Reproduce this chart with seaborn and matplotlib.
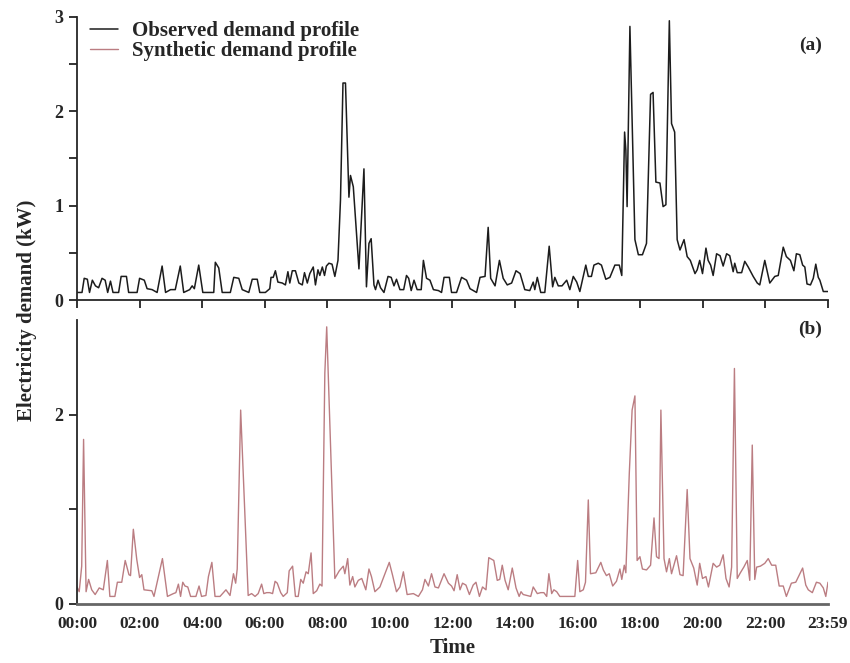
import numpy as np
import pandas as pd
import matplotlib
matplotlib.use('Agg')
import matplotlib.pyplot as plt
import seaborn as sns
from matplotlib.ticker import MultipleLocator, FixedLocator

# observed profile (a): time in hours, demand in kW
obs_hours = [0.00, 0.16, 0.23, 0.33, 0.40, 0.49, 0.59, 0.69, 0.80, 0.90, 0.98, 1.07, 1.15, 1.33, 1.41, 1.58,
             1.65, 1.92, 2.00, 2.15, 2.24, 2.40, 2.56, 2.72, 2.83, 2.99, 3.14, 3.30, 3.41, 3.60, 3.68, 3.75,
             3.89, 4.02, 4.37, 4.42, 4.53, 4.64, 4.90, 5.01, 5.17, 5.28, 5.49, 5.60, 5.76, 5.84, 6.02, 6.16,
             6.20, 6.27, 6.34, 6.42, 6.56, 6.66, 6.74, 6.80, 6.88, 6.98, 7.09, 7.20, 7.27, 7.36, 7.44, 7.55,
             7.62, 7.70, 7.76, 7.84, 7.91, 7.97, 8.05, 8.15, 8.24, 8.34, 8.42, 8.50, 8.58, 8.69, 8.74, 8.83,
             9.01, 9.17, 9.25, 9.33, 9.40, 9.49, 9.54, 9.62, 9.70, 9.81, 9.94, 10.04, 10.13, 10.21, 10.32,
             10.44, 10.53, 10.60, 10.68, 10.77, 10.87, 11.00, 11.07, 11.17, 11.28, 11.39, 11.55, 11.65, 11.73,
             11.90, 11.97, 12.13, 12.29, 12.45, 12.56, 12.77, 12.88, 13.04, 13.14, 13.22, 13.36, 13.50, 13.62,
             13.75, 13.89, 14.03, 14.16, 14.31, 14.47, 14.58, 14.63, 14.71, 14.82, 14.95, 15.09, 15.20, 15.27,
             15.38, 15.50, 15.65, 15.75, 15.86, 15.97, 16.07, 16.26, 16.34, 16.44, 16.52, 16.66, 16.76, 16.90,
             17.03, 17.19, 17.33, 17.41, 17.50, 17.54, 17.58, 17.67, 17.83, 17.94, 18.07, 18.20, 18.33, 18.41,
             18.50, 18.63, 18.73, 18.82, 18.93, 19.00, 19.10, 19.18, 19.27, 19.40, 19.50, 19.60, 19.75, 19.82,
             19.90, 19.99, 20.10, 20.17, 20.25, 20.33, 20.44, 20.55, 20.65, 20.76, 20.86, 20.97, 21.02, 21.10,
             21.24, 21.34, 21.45, 21.61, 21.74, 21.82, 21.98, 22.14, 22.30, 22.41, 22.57, 22.67, 22.80, 22.91,
             22.99, 23.10, 23.19, 23.26, 23.33, 23.44, 23.53, 23.61, 23.69, 23.74, 23.85, 24.00]
obs_kw = [0.08, 0.08, 0.23, 0.22, 0.08, 0.21, 0.15, 0.13, 0.23, 0.21, 0.08, 0.20, 0.08, 0.08, 0.25, 0.25,
          0.08, 0.08, 0.23, 0.21, 0.12, 0.11, 0.08, 0.36, 0.08, 0.11, 0.11, 0.36, 0.08, 0.11, 0.15, 0.12,
          0.37, 0.08, 0.08, 0.40, 0.34, 0.08, 0.08, 0.24, 0.23, 0.11, 0.08, 0.22, 0.22, 0.08, 0.08, 0.12,
          0.24, 0.24, 0.31, 0.19, 0.18, 0.16, 0.30, 0.18, 0.31, 0.31, 0.18, 0.16, 0.29, 0.18, 0.28, 0.35,
          0.16, 0.32, 0.26, 0.35, 0.26, 0.36, 0.39, 0.38, 0.25, 0.42, 1.06, 2.30, 2.30, 1.09, 1.32, 1.20,
          0.33, 1.39, 0.14, 0.60, 0.65, 0.16, 0.11, 0.21, 0.13, 0.08, 0.25, 0.24, 0.15, 0.22, 0.11,
          0.11, 0.26, 0.23, 0.10, 0.21, 0.11, 0.11, 0.42, 0.23, 0.21, 0.11, 0.10, 0.08, 0.24,
          0.24, 0.08, 0.08, 0.24, 0.21, 0.12, 0.08, 0.24, 0.25, 0.77, 0.23, 0.15, 0.42, 0.23,
          0.16, 0.18, 0.31, 0.28, 0.11, 0.10, 0.19, 0.11, 0.24, 0.08, 0.08, 0.57, 0.14, 0.24,
          0.15, 0.15, 0.21, 0.11, 0.25, 0.19, 0.09, 0.37, 0.25, 0.25, 0.37, 0.39, 0.37, 0.22,
          0.24, 0.37, 0.37, 0.26, 1.78, 1.59, 0.99, 2.90, 0.64, 0.48, 0.48, 0.60, 2.18, 2.20,
          1.25, 1.24, 0.99, 1.01, 2.96, 1.87, 1.78, 0.64, 0.53, 0.64, 0.46, 0.42, 0.28, 0.32,
          0.42, 0.28, 0.55, 0.42, 0.37, 0.26, 0.49, 0.47, 0.36, 0.49, 0.47, 0.30, 0.39, 0.29,
          0.29, 0.41, 0.35, 0.25, 0.18, 0.16, 0.42, 0.18, 0.25, 0.26, 0.56, 0.46, 0.42, 0.31,
          0.49, 0.48, 0.37, 0.35, 0.17, 0.16, 0.23, 0.38, 0.24, 0.21, 0.09, 0.09]

# synthetic profile (b)
syn_hours = [0.00, 0.07, 0.15, 0.21, 0.29, 0.37, 0.47, 0.58, 0.71, 0.84, 0.97, 1.05, 1.21, 1.29, 1.43, 1.54,
             1.66, 1.71, 1.80, 1.91, 2.00, 2.07, 2.14, 2.39, 2.46, 2.60, 2.73, 2.89, 3.08, 3.16, 3.24, 3.31,
             3.38, 3.45, 3.54, 3.63, 3.80, 3.90, 3.98, 4.12, 4.20, 4.31, 4.41, 4.57, 4.76, 4.89, 5.00, 5.07,
             5.12, 5.23, 5.47, 5.58, 5.69, 5.79, 5.90, 5.97, 6.06, 6.16, 6.25, 6.33, 6.40, 6.51, 6.59, 6.72,
             6.78, 6.89, 6.98, 7.07, 7.15, 7.23, 7.32, 7.39, 7.48, 7.55, 7.66, 7.76, 7.83, 7.92, 7.98, 8.03,
             8.24, 8.38, 8.51, 8.56, 8.65, 8.72, 8.81, 8.88, 8.99, 9.10, 9.23, 9.33, 9.41, 9.52, 9.68, 9.98,
             10.08, 10.21, 10.32, 10.43, 10.55, 10.75, 10.91, 11.04, 11.12, 11.23, 11.33, 11.44, 11.55, 11.73,
             11.87, 11.97, 12.05, 12.15, 12.24, 12.32, 12.43, 12.54, 12.66, 12.75, 12.86, 12.96, 13.07, 13.16,
             13.32, 13.43, 13.51, 13.59, 13.68, 13.78, 13.91, 14.03, 14.13, 14.19, 14.26, 14.50, 14.58, 14.71,
             14.82, 14.92, 15.01, 15.08, 15.17, 15.24, 15.33, 15.43, 15.91, 16.00, 16.07, 16.18, 16.25, 16.34,
             16.41, 16.58, 16.74, 16.82, 16.92, 17.01, 17.12, 17.24, 17.35, 17.41, 17.49, 17.54, 17.65, 17.74,
             17.83, 17.90, 17.99, 18.07, 18.20, 18.33, 18.44, 18.52, 18.60, 18.66, 18.76, 18.84, 18.93, 19.00,
             19.16, 19.27, 19.37, 19.50, 19.59, 19.71, 19.82, 19.90, 19.99, 20.10, 20.18, 20.33, 20.44, 20.54,
             20.65, 20.74, 20.84, 20.92, 21.01, 21.10, 21.20, 21.31, 21.42, 21.50, 21.58, 21.66, 21.72, 21.84,
             21.98, 22.09, 22.20, 22.33, 22.44, 22.57, 22.67, 22.83, 22.97, 23.19, 23.29, 23.37, 23.50, 23.63,
             23.74, 23.85, 23.93, 24.00]
syn_kw = [0.18, 0.13, 0.40, 1.74, 0.13, 0.26, 0.15, 0.10, 0.17, 0.15, 0.46, 0.08, 0.08, 0.23, 0.23, 0.46,
          0.31, 0.30, 0.79, 0.47, 0.28, 0.31, 0.15, 0.14, 0.08, 0.29, 0.48, 0.08, 0.11, 0.12, 0.21, 0.08,
          0.23, 0.19, 0.18, 0.08, 0.08, 0.19, 0.08, 0.09, 0.29, 0.44, 0.08, 0.08, 0.15, 0.09, 0.32, 0.22,
          0.37, 2.05, 0.09, 0.11, 0.08, 0.11, 0.21, 0.11, 0.12, 0.12, 0.11, 0.24, 0.22, 0.12, 0.08, 0.12,
          0.35, 0.40, 0.08, 0.08, 0.26, 0.22, 0.34, 0.32, 0.54, 0.11, 0.14, 0.21, 0.19, 2.44, 2.93, 2.42,
          0.27, 0.35, 0.40, 0.32, 0.48, 0.20, 0.29, 0.18, 0.25, 0.27, 0.15, 0.37, 0.29, 0.13, 0.18, 0.44,
          0.31, 0.13, 0.18, 0.34, 0.10, 0.11, 0.08, 0.15, 0.26, 0.19, 0.32, 0.18, 0.17, 0.32,
          0.22, 0.19, 0.14, 0.31, 0.15, 0.22, 0.20, 0.10, 0.20, 0.23, 0.08, 0.18, 0.15, 0.49,
          0.46, 0.25, 0.26, 0.41, 0.25, 0.15, 0.38, 0.17, 0.08, 0.13, 0.10, 0.08, 0.18, 0.11,
          0.12, 0.12, 0.08, 0.32, 0.11, 0.15, 0.13, 0.08, 0.08, 0.46, 0.13, 0.15, 0.23, 1.10,
          0.32, 0.33, 0.44, 0.36, 0.30, 0.32, 0.19, 0.24, 0.37, 0.26, 0.41, 0.33, 1.38, 2.05,
          2.20, 0.46, 0.50, 0.37, 0.36, 0.41, 0.91, 0.50, 0.48, 2.05, 0.48, 0.34, 0.48, 0.32,
          0.51, 0.31, 0.30, 1.21, 0.48, 0.38, 0.20, 0.43, 0.27, 0.29, 0.18, 0.43, 0.39, 0.41,
          0.52, 0.27, 0.18, 0.39, 2.49, 0.27, 0.33, 0.39, 0.46, 0.25, 1.68, 0.26, 0.39, 0.40,
          0.43, 0.48, 0.41, 0.41, 0.19, 0.19, 0.08, 0.22, 0.23, 0.38, 0.20, 0.15, 0.12, 0.23,
          0.22, 0.17, 0.08, 0.23]

tick_hours = [0, 2, 4, 6, 8, 10, 12, 14, 16, 18, 20, 22, 24]
tick_labels = ['00:00', '02:00', '04:00', '06:00', '08:00', '10:00', '12:00',
               '14:00', '16:00', '18:00', '20:00', '22:00', '23:59']

obs_df = pd.DataFrame({'hour': obs_hours, 'kw': obs_kw})
syn_df = pd.DataFrame({'hour': syn_hours, 'kw': syn_kw})

sns.set_style('ticks')
plt.rcParams['font.family'] = ['Liberation Serif', 'DejaVu Serif']
plt.rcParams['font.weight'] = 'bold'

fig = plt.figure(figsize=(8.5, 6.63), dpi=100)
ax1 = fig.add_axes([0.0906, 0.5475, 0.8835, 0.4269])
ax2 = fig.add_axes([0.0906, 0.089, 0.8835, 0.428])

sns.lineplot(data=obs_df, x='hour', y='kw', ax=ax1, color='#1c1c1c', lw=1.1,
             estimator=None, sort=False, label='Observed demand profile')
sns.lineplot(data=syn_df, x='hour', y='kw', ax=ax2, color='#bb7d82', lw=1.0,
             estimator=None, sort=False, label='Synthetic demand profile')

for ax in (ax1, ax2):
    ax.set_xlim(0, 24)
    ax.set_ylim(0, 3)
    ax.set_xlabel('')
    ax.set_ylabel('')
    sns.despine(ax=ax)
    ax.spines['left'].set_linewidth(1.3)
    ax.spines['bottom'].set_linewidth(1.3)

# panel (a)
ax1.xaxis.set_major_locator(FixedLocator(tick_hours))
ax1.set_xticklabels([])
ax1.yaxis.set_major_locator(MultipleLocator(1))
ax1.yaxis.set_minor_locator(MultipleLocator(0.5))
ax1.tick_params(axis='both', which='both', direction='out', length=6, width=1.2,
                color='#111111', labelsize=13, pad=4)

# panel (b)
ax2.set_xticks(tick_hours)
ax2.set_xticklabels(tick_labels)
ax2.yaxis.set_major_locator(FixedLocator([0, 2]))
ax2.yaxis.set_minor_locator(FixedLocator([1]))
ax2.tick_params(axis='y', which='both', direction='out', length=6, width=1.2,
                color='#111111', labelsize=13, pad=4)
ax2.tick_params(axis='x', length=0, labelsize=12.5, pad=9)
ax2.spines['bottom'].set_color('#666666')
ax2.spines['bottom'].set_linewidth(2)
ax2.set_xlabel('Time', fontsize=15, fontweight='bold', labelpad=4)

for lab in ax1.get_yticklabels() + ax2.get_yticklabels() + ax2.get_xticklabels():
    lab.set_fontweight('bold')

# legend with both series in panel (a)
h1, l1 = ax1.get_legend_handles_labels()
h2, l2 = ax2.get_legend_handles_labels()
ax2.get_legend().remove()
ax1.legend(h1 + h2, l1 + l2, loc='upper left', bbox_to_anchor=(0.017, 0.985),
           frameon=False, prop={'weight': 'bold', 'size': 15},
           handlelength=1.35, handletextpad=0.7, labelspacing=0.0,
           borderaxespad=0, borderpad=0)

ax1.text(0.992, 0.898, '(a)', transform=ax1.transAxes, ha='right', va='center',
         fontsize=14, fontweight='bold')
ax2.text(0.992, 0.968, '(b)', transform=ax2.transAxes, ha='right', va='center',
         fontsize=14, fontweight='bold')

fig.text(0.032, 0.532, 'Electricity demand (kW)', rotation=90, ha='center', va='center',
         fontsize=15, fontweight='bold')

fig.savefig('out.png', dpi=100)
